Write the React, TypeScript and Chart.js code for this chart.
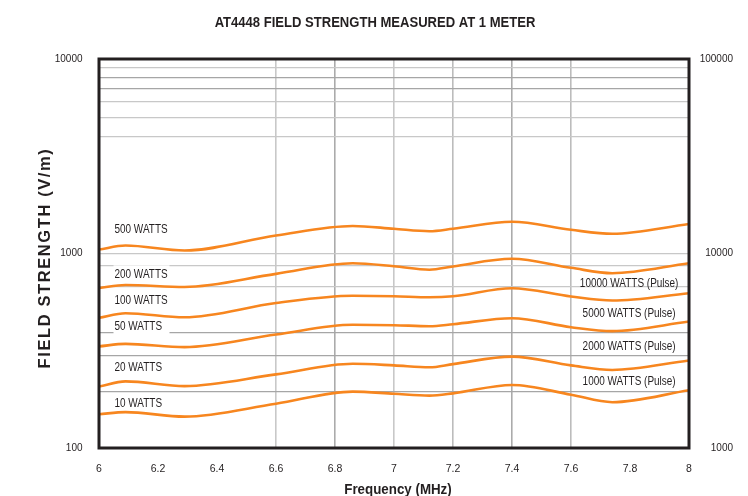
import React, { useEffect, useRef } from "react";
import { Chart, registerables } from "chart.js";

Chart.register(...registerables);

// ---- data ----
const frequencies = [6.0, 6.09, 6.29, 6.6, 6.86, 7.0, 7.12, 7.2, 7.4, 7.6, 7.74, 8.0];
const watts500 = [1048, 1099, 1036, 1237, 1385, 1340, 1302, 1340, 1455, 1324, 1263, 1418];
const watts200 = [665, 689, 673, 786, 891, 860, 825, 858, 939, 844, 792, 891];
const watts100 = [467, 493, 470, 556, 606, 603, 596, 603, 663, 601, 573, 625];
const watts50 = [333, 343, 330, 383, 430, 428, 423, 433, 465, 418, 399, 447];
const watts20 = [207, 220, 208, 239, 271, 266, 260, 270, 295, 266, 252, 282];
const watts10 = [149, 153, 145, 169, 195, 190, 186, 191, 211, 188, 172, 198];

const leftLabels = ["500 WATTS", "200 WATTS", "100 WATTS", "50 WATTS", "20 WATTS", "10 WATTS"];
const leftLabelValues = [1328, 777, 573, 418, 260, 169];
const leftLabelFreq = 6.0525;

const rightLabels = ["10000 WATTS (Pulse)", "5000 WATTS (Pulse)", "2000 WATTS (Pulse)", "1000 WATTS (Pulse)"];
const rightLabelValues = [699, 493, 330, 220];
const rightLabelFreq = 7.797;

const leftTickLabels = [100, 1000, 10000];
const rightTickLabels = [1000, 10000, 100000];
const yGridValues = [100, 195, 297, 394, 675, 862, 1000, 4000, 5000, 6000, 7000, 8000, 9000, 10000];
const yGridDark = [195, 297, 394, 7000, 8000];
const xGridValues = [6.6, 6.8, 7.0, 7.2, 7.4, 7.6];
const xGridDark = [6.8, 7.4];
const xGridMid = [7.2, 7.6];

const TITLE = "AT4448 FIELD STRENGTH MEASURED AT 1 METER";
const Y_TITLE = "FIELD STRENGTH (V/m)";
const X_TITLE = "Frequency (MHz)";

const SANS = "'Liberation Sans', Arial, Helvetica, sans-serif";
const TEXT = "#231f20";
const ORANGE = "#f7861f";

function condensedText(ctx: CanvasRenderingContext2D, text: string, x: number, y: number, align: CanvasTextAlign, sx: number) {
  ctx.save();
  ctx.translate(x, y);
  ctx.scale(sx, 1);
  ctx.textAlign = align;
  ctx.textBaseline = "middle";
  ctx.fillText(text, 0, 0);
  ctx.restore();
}

const overlayPlugin = {
  id: "overlay",
  beforeDatasetsDraw(chart: any) {
    const { ctx, scales } = chart;
    const xs = scales.x;
    const ys = scales.y;
    ctx.save();
    ctx.font = `12px ${SANS}`;
    leftLabels.forEach((t, i) => {
      const px = xs.getPixelForValue(leftLabelFreq);
      const py = ys.getPixelForValue(leftLabelValues[i]);
      ctx.fillStyle = "#ffffff";
      ctx.fillRect(px - 1, py - 9.5, 56, 19);
      ctx.fillStyle = TEXT;
      condensedText(ctx, t, px, py, "left", 0.83);
    });
    rightLabels.forEach((t, i) => {
      const px = xs.getPixelForValue(rightLabelFreq);
      const py = ys.getPixelForValue(rightLabelValues[i]);
      ctx.fillStyle = TEXT;
      condensedText(ctx, t, px, py, "center", 0.83);
    });
    ctx.restore();
  },
  afterDraw(chart: any) {
    const { ctx, chartArea } = chart;
    const { left, right, top, bottom } = chartArea;
    ctx.save();
    // frame
    ctx.strokeStyle = TEXT;
    ctx.lineWidth = 3;
    ctx.strokeRect(left, top, right - left, bottom - top);
    // titles
    ctx.fillStyle = TEXT;
    ctx.font = `bold 14.5px ${SANS}`;
    condensedText(ctx, TITLE, 375, 22.5, "center", 0.9);
    ctx.font = `bold 14.5px ${SANS}`;
    condensedText(ctx, X_TITLE, (left + right) / 2 + 4, 490, "center", 0.92);
    ctx.translate(45, 258);
    ctx.rotate(-Math.PI / 2);
    ctx.textAlign = "center";
    ctx.textBaseline = "middle";
    ctx.font = `bold 16.5px ${SANS}`;
    (ctx as any).letterSpacing = "1.6px";
    ctx.fillText(Y_TITLE, 0, 0);
    ctx.restore();
  },
};

const near = (a: number, list: number[]) => list.some((v) => Math.abs(v - a) < 1e-6 * Math.max(1, Math.abs(v)));

export default function App() {
  const ref = useRef<HTMLCanvasElement | null>(null);

  useEffect(() => {
    if (!ref.current) return;
    const mk = (vals: number[]) => frequencies.map((f, i) => ({ x: f, y: vals[i] }));
    const series = [watts500, watts200, watts100, watts50, watts20, watts10];
    const chart = new Chart(ref.current, {
      type: "line",
      data: {
        datasets: series.map((s, i) => ({
          label: leftLabels[i],
          data: mk(s),
          borderColor: ORANGE,
          borderWidth: 2.6,
          pointRadius: 0,
          fill: false,
          cubicInterpolationMode: "monotone" as const,
          yAxisID: "y",
        })),
      },
      options: {
        responsive: false,
        animation: false,
        devicePixelRatio: 1,
        layout: { padding: { left: 0, top: 59, right: 15, bottom: 0 } },
        plugins: {
          legend: { display: false },
          tooltip: { enabled: false },
          title: { display: false },
        },
        scales: {
          x: {
            type: "linear",
            min: 6,
            max: 8,
            afterFit: (s: any) => {
              s.height = 48;
            },
            ticks: {
              stepSize: 0.2,
              padding: 14.5,
              color: TEXT,
              font: { family: SANS, size: 10.5 },
              callback: (v: any) => String(Number(Number(v).toFixed(1))),
            },
            grid: {
              drawTicks: false,
              lineWidth: 1.6,
              color: (c: any) => {
                const v = Math.round((c.tick ? c.tick.value : 0) * 10) / 10;
                if (!near(v, xGridValues)) return "rgba(0,0,0,0)";
                if (near(v, xGridDark)) return "#ababab";
                if (near(v, xGridMid)) return "#bcbcbc";
                return "#c8c8c8";
              },
            },
            border: { display: false },
          },
          y: {
            type: "logarithmic",
            position: "left",
            min: 100,
            max: 10000,
            afterFit: (s: any) => {
              s.width = 99;
            },
            afterBuildTicks: (s: any) => {
              s.ticks = yGridValues.map((v) => ({ value: v }));
            },
            ticks: {
              padding: 16.5,
              color: TEXT,
              font: { family: SANS, size: 10 },
              autoSkip: false,
              callback: (v: any) => (near(Number(v), leftTickLabels) ? String(v) : ""),
            },
            grid: {
              drawTicks: false,
              lineWidth: 1.3,
              color: (c: any) => {
                const v = c.tick ? c.tick.value : 0;
                return near(v, yGridDark) ? "#a6a6a6" : "#c8c8c8";
              },
            },
            border: { display: false },
          },
          y2: {
            type: "logarithmic",
            position: "right",
            min: 1000,
            max: 100000,
            afterFit: (s: any) => {
              s.width = 44;
            },
            afterBuildTicks: (s: any) => {
              s.ticks = rightTickLabels.map((v) => ({ value: v }));
            },
            ticks: {
              crossAlign: "far",
              padding: 9,
              color: TEXT,
              font: { family: SANS, size: 10 },
              autoSkip: false,
              callback: (v: any) => String(v),
            },
            grid: { display: false, drawTicks: false },
            border: { display: false },
          },
        },
      },
      plugins: [overlayPlugin],
    } as any);
    return () => chart.destroy();
  }, []);

  return (
    <div style={{ position: "absolute", left: 0, top: 0, width: 748, height: 496, background: "#fff" }}>
      <canvas ref={ref} width={748} height={496} style={{ display: "block", width: 748, height: 496 }} />
    </div>
  );
}
